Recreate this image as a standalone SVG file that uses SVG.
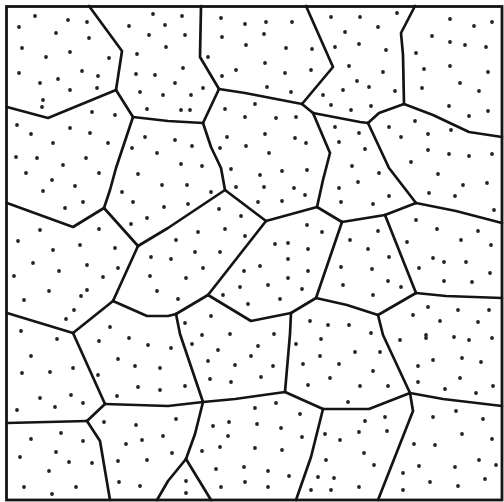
<svg xmlns="http://www.w3.org/2000/svg" width="504" height="502" viewBox="0 0 504 502">
<style>
.b{fill:none;stroke:#141414;stroke-width:2.7;stroke-linejoin:round;stroke-linecap:round}
.f{fill:none;stroke:#141414;stroke-width:2.8}
.d circle{fill:#222}
</style>
<rect width="504" height="502" fill="#ffffff"/>
<rect id="frame" x="6.5" y="6.5" width="495.5" height="493.5" class="f"/>
<g id="boundaries" class="b">
<path d="M89,6 L122,51 L116,90"/>
<path d="M116,90 L48,118 L7,107"/>
<path d="M116,90 L133,117"/>
<path d="M133,117 L168,121 L203,123"/>
<path d="M133,117 L116,168 L110,190 L104,208"/>
<path d="M201,6 L200,57 L219,89"/>
<path d="M219,89 L203,123"/>
<path d="M219,89 L245,93 L302,104"/>
<path d="M203,123 L211,147 L221,168 L225,190"/>
<path d="M306,6 L333,67 L302,104"/>
<path d="M302,104 L313,113"/>
<path d="M313,113 L360,122 L368,123"/>
<path d="M313,113 L330,153 L323,180 L317,207"/>
<path d="M415,6 L401,33 L403,55 L404,104"/>
<path d="M404,104 L379,113 L368,123"/>
<path d="M404,104 L433,115 L469,132 L502,137"/>
<path d="M368,123 L389,168 L416,203"/>
<path d="M416,203 L456,211 L502,223"/>
<path d="M416,203 L385,215"/>
<path d="M385,215 L342,222"/>
<path d="M342,222 L317,207"/>
<path d="M317,207 L266,221"/>
<path d="M266,221 L225,190"/>
<path d="M225,190 L168,228 L138,246"/>
<path d="M104,208 L138,246"/>
<path d="M7,203 L73,227 L104,208"/>
<path d="M138,246 L113,301"/>
<path d="M113,301 L147,316 L168,316 L176,314"/>
<path d="M176,314 L208,295"/>
<path d="M208,295 L266,221"/>
<path d="M208,295 L251,321 L291,313"/>
<path d="M291,313 L316,298"/>
<path d="M316,298 L342,222"/>
<path d="M316,298 L347,305 L378,315"/>
<path d="M385,215 L416,293"/>
<path d="M416,293 L446,296 L502,298"/>
<path d="M416,293 L378,315"/>
<path d="M378,315 L383,335 L410,393"/>
<path d="M113,301 L73,333"/>
<path d="M7,313 L73,333"/>
<path d="M73,333 L105,404"/>
<path d="M105,404 L168,406 L203,402"/>
<path d="M105,404 L87,421"/>
<path d="M7,423 L87,421"/>
<path d="M87,421 L100,441 L110,500"/>
<path d="M176,314 L180,334 L203,402"/>
<path d="M203,402 L235,399 L285,392"/>
<path d="M285,392 L290,334 L291,313"/>
<path d="M285,392 L323,409"/>
<path d="M323,409 L369,409 L410,393"/>
<path d="M410,393 L443,399 L502,406"/>
<path d="M410,393 L413,411 L378,500"/>
<path d="M323,409 L311,457 L296,500"/>
<path d="M203,402 L195,434 L186,459"/>
<path d="M186,459 L211,500"/>
<path d="M186,459 L168,481 L157,500"/>
</g>
<g id="dots" class="d">
<circle cx="35" cy="16" r="1.9"/><circle cx="68" cy="20" r="1.9"/><circle cx="87" cy="22" r="1.9"/><circle cx="19" cy="27" r="1.9"/><circle cx="153" cy="14" r="1.9"/><circle cx="129" cy="26" r="1.9"/><circle cx="165" cy="25" r="1.9"/><circle cx="56" cy="33" r="1.9"/><circle cx="89" cy="38" r="1.9"/><circle cx="149" cy="35" r="1.9"/><circle cx="22" cy="48" r="1.9"/><circle cx="70" cy="52" r="1.9"/><circle cx="137" cy="54" r="1.9"/><circle cx="46" cy="57" r="1.9"/><circle cx="109" cy="58" r="1.9"/><circle cx="166" cy="47" r="1.9"/><circle cx="19" cy="73" r="1.9"/><circle cx="82" cy="71" r="1.9"/><circle cx="98" cy="76" r="1.9"/><circle cx="136" cy="74" r="1.9"/><circle cx="155" cy="75" r="1.9"/><circle cx="40" cy="83" r="1.9"/><circle cx="58" cy="79" r="1.9"/><circle cx="70" cy="90" r="1.9"/><circle cx="97" cy="88" r="1.9"/><circle cx="140" cy="92" r="1.9"/><circle cx="163" cy="95" r="1.9"/><circle cx="43" cy="100" r="1.9"/><circle cx="42" cy="107" r="1.9"/><circle cx="147" cy="109" r="1.9"/><circle cx="92" cy="112" r="1.9"/><circle cx="115" cy="115" r="1.9"/><circle cx="17" cy="125" r="1.9"/><circle cx="70" cy="128" r="1.9"/><circle cx="31" cy="134" r="1.9"/><circle cx="90" cy="133" r="1.9"/><circle cx="145" cy="137" r="1.9"/><circle cx="53" cy="143" r="1.9"/><circle cx="108" cy="143" r="1.9"/><circle cx="132" cy="148" r="1.9"/><circle cx="157" cy="153" r="1.9"/><circle cx="16" cy="157" r="1.9"/><circle cx="37" cy="158" r="1.9"/><circle cx="86" cy="158" r="1.9"/><circle cx="63" cy="165" r="1.9"/>
<circle cx="182" cy="16" r="1.9"/><circle cx="221" cy="18" r="1.9"/><circle cx="245" cy="24" r="1.9"/><circle cx="266" cy="22" r="1.9"/><circle cx="292" cy="22" r="1.9"/><circle cx="331" cy="17" r="1.9"/><circle cx="185" cy="35" r="1.9"/><circle cx="222" cy="37" r="1.9"/><circle cx="264" cy="34" r="1.9"/><circle cx="246" cy="45" r="1.9"/><circle cx="286" cy="48" r="1.9"/><circle cx="312" cy="49" r="1.9"/><circle cx="208" cy="57" r="1.9"/><circle cx="335" cy="47" r="1.9"/><circle cx="183" cy="68" r="1.9"/><circle cx="236" cy="70" r="1.9"/><circle cx="265" cy="63" r="1.9"/><circle cx="285" cy="73" r="1.9"/><circle cx="311" cy="70" r="1.9"/><circle cx="222" cy="76" r="1.9"/><circle cx="175" cy="83" r="1.9"/><circle cx="203" cy="88" r="1.9"/><circle cx="267" cy="87" r="1.9"/><circle cx="291" cy="92" r="1.9"/><circle cx="191" cy="95" r="1.9"/><circle cx="323" cy="95" r="1.9"/><circle cx="181" cy="110" r="1.9"/><circle cx="190" cy="110" r="1.9"/><circle cx="331" cy="105" r="1.9"/><circle cx="225" cy="109" r="1.9"/><circle cx="255" cy="104" r="1.9"/><circle cx="245" cy="117" r="1.9"/><circle cx="276" cy="118" r="1.9"/><circle cx="296" cy="117" r="1.9"/><circle cx="335" cy="127" r="1.9"/><circle cx="175" cy="140" r="1.9"/><circle cx="192" cy="146" r="1.9"/><circle cx="227" cy="137" r="1.9"/><circle cx="265" cy="134" r="1.9"/><circle cx="295" cy="138" r="1.9"/><circle cx="220" cy="148" r="1.9"/><circle cx="246" cy="146" r="1.9"/><circle cx="269" cy="153" r="1.9"/><circle cx="306" cy="143" r="1.9"/><circle cx="181" cy="164" r="1.9"/><circle cx="202" cy="166" r="1.9"/>
<circle cx="360" cy="17" r="1.9"/><circle cx="397" cy="13" r="1.9"/><circle cx="345" cy="32" r="1.9"/><circle cx="378" cy="27" r="1.9"/><circle cx="450" cy="19" r="1.9"/><circle cx="474" cy="26" r="1.9"/><circle cx="492" cy="22" r="1.9"/><circle cx="359" cy="44" r="1.9"/><circle cx="386" cy="50" r="1.9"/><circle cx="432" cy="36" r="1.9"/><circle cx="450" cy="42" r="1.9"/><circle cx="465" cy="45" r="1.9"/><circle cx="486" cy="47" r="1.9"/><circle cx="416" cy="53" r="1.9"/><circle cx="349" cy="66" r="1.9"/><circle cx="383" cy="72" r="1.9"/><circle cx="424" cy="69" r="1.9"/><circle cx="450" cy="66" r="1.9"/><circle cx="488" cy="72" r="1.9"/><circle cx="357" cy="81" r="1.9"/><circle cx="369" cy="87" r="1.9"/><circle cx="343" cy="90" r="1.9"/><circle cx="395" cy="91" r="1.9"/><circle cx="422" cy="88" r="1.9"/><circle cx="460" cy="83" r="1.9"/><circle cx="479" cy="91" r="1.9"/><circle cx="351" cy="110" r="1.9"/><circle cx="371" cy="106" r="1.9"/><circle cx="449" cy="106" r="1.9"/><circle cx="469" cy="116" r="1.9"/><circle cx="488" cy="111" r="1.9"/><circle cx="415" cy="121" r="1.9"/><circle cx="389" cy="127" r="1.9"/><circle cx="401" cy="137" r="1.9"/><circle cx="428" cy="134" r="1.9"/><circle cx="451" cy="130" r="1.9"/><circle cx="359" cy="133" r="1.9"/><circle cx="339" cy="142" r="1.9"/><circle cx="365" cy="149" r="1.9"/><circle cx="428" cy="150" r="1.9"/><circle cx="449" cy="154" r="1.9"/><circle cx="469" cy="156" r="1.9"/><circle cx="492" cy="154" r="1.9"/><circle cx="411" cy="162" r="1.9"/><circle cx="352" cy="166" r="1.9"/>
<circle cx="26" cy="173" r="1.9"/><circle cx="52" cy="180" r="1.9"/><circle cx="43" cy="191" r="1.9"/><circle cx="75" cy="186" r="1.9"/><circle cx="99" cy="173" r="1.9"/><circle cx="65" cy="208" r="1.9"/><circle cx="83" cy="202" r="1.9"/><circle cx="138" cy="174" r="1.9"/><circle cx="162" cy="185" r="1.9"/><circle cx="122" cy="192" r="1.9"/><circle cx="133" cy="202" r="1.9"/><circle cx="164" cy="207" r="1.9"/><circle cx="147" cy="218" r="1.9"/><circle cx="131" cy="224" r="1.9"/><circle cx="40" cy="230" r="1.9"/><circle cx="99" cy="229" r="1.9"/><circle cx="18" cy="241" r="1.9"/><circle cx="80" cy="245" r="1.9"/><circle cx="53" cy="250" r="1.9"/><circle cx="115" cy="248" r="1.9"/><circle cx="33" cy="263" r="1.9"/><circle cx="87" cy="265" r="1.9"/><circle cx="59" cy="271" r="1.9"/><circle cx="118" cy="268" r="1.9"/><circle cx="14" cy="276" r="1.9"/><circle cx="103" cy="277" r="1.9"/><circle cx="151" cy="257" r="1.9"/><circle cx="150" cy="276" r="1.9"/><circle cx="157" cy="291" r="1.9"/><circle cx="49" cy="291" r="1.9"/><circle cx="87" cy="290" r="1.9"/><circle cx="81" cy="296" r="1.9"/><circle cx="24" cy="300" r="1.9"/><circle cx="74" cy="310" r="1.9"/><circle cx="66" cy="319" r="1.9"/><circle cx="21" cy="331" r="1.9"/><circle cx="110" cy="327" r="1.9"/>
<circle cx="231" cy="169" r="1.9"/><circle cx="187" cy="185" r="1.9"/><circle cx="211" cy="192" r="1.9"/><circle cx="188" cy="204" r="1.9"/><circle cx="236" cy="187" r="1.9"/><circle cx="260" cy="175" r="1.9"/><circle cx="282" cy="171" r="1.9"/><circle cx="307" cy="170" r="1.9"/><circle cx="264" cy="187" r="1.9"/><circle cx="294" cy="188" r="1.9"/><circle cx="305" cy="195" r="1.9"/><circle cx="258" cy="202" r="1.9"/><circle cx="282" cy="201" r="1.9"/><circle cx="219" cy="209" r="1.9"/><circle cx="241" cy="216" r="1.9"/><circle cx="198" cy="232" r="1.9"/><circle cx="225" cy="229" r="1.9"/><circle cx="245" cy="236" r="1.9"/><circle cx="176" cy="240" r="1.9"/><circle cx="307" cy="225" r="1.9"/><circle cx="322" cy="232" r="1.9"/><circle cx="275" cy="244" r="1.9"/><circle cx="288" cy="243" r="1.9"/><circle cx="308" cy="249" r="1.9"/><circle cx="195" cy="252" r="1.9"/><circle cx="220" cy="252" r="1.9"/><circle cx="171" cy="259" r="1.9"/><circle cx="288" cy="259" r="1.9"/><circle cx="260" cy="266" r="1.9"/><circle cx="203" cy="268" r="1.9"/><circle cx="244" cy="271" r="1.9"/><circle cx="308" cy="271" r="1.9"/><circle cx="186" cy="278" r="1.9"/><circle cx="288" cy="278" r="1.9"/><circle cx="268" cy="285" r="1.9"/><circle cx="240" cy="287" r="1.9"/><circle cx="302" cy="289" r="1.9"/><circle cx="178" cy="299" r="1.9"/><circle cx="223" cy="295" r="1.9"/><circle cx="248" cy="304" r="1.9"/><circle cx="280" cy="299" r="1.9"/><circle cx="211" cy="316" r="1.9"/><circle cx="185" cy="323" r="1.9"/><circle cx="230" cy="334" r="1.9"/><circle cx="202" cy="335" r="1.9"/><circle cx="274" cy="334" r="1.9"/><circle cx="310" cy="321" r="1.9"/><circle cx="328" cy="325" r="1.9"/>
<circle cx="379" cy="173" r="1.9"/><circle cx="438" cy="174" r="1.9"/><circle cx="358" cy="182" r="1.9"/><circle cx="463" cy="185" r="1.9"/><circle cx="487" cy="183" r="1.9"/><circle cx="339" cy="188" r="1.9"/><circle cx="389" cy="196" r="1.9"/><circle cx="429" cy="193" r="1.9"/><circle cx="455" cy="196" r="1.9"/><circle cx="341" cy="202" r="1.9"/><circle cx="373" cy="204" r="1.9"/><circle cx="494" cy="210" r="1.9"/><circle cx="416" cy="220" r="1.9"/><circle cx="437" cy="229" r="1.9"/><circle cx="478" cy="231" r="1.9"/><circle cx="378" cy="231" r="1.9"/><circle cx="350" cy="240" r="1.9"/><circle cx="407" cy="242" r="1.9"/><circle cx="461" cy="240" r="1.9"/><circle cx="491" cy="245" r="1.9"/><circle cx="368" cy="249" r="1.9"/><circle cx="389" cy="257" r="1.9"/><circle cx="433" cy="258" r="1.9"/><circle cx="444" cy="262" r="1.9"/><circle cx="466" cy="262" r="1.9"/><circle cx="341" cy="267" r="1.9"/><circle cx="372" cy="269" r="1.9"/><circle cx="419" cy="268" r="1.9"/><circle cx="490" cy="273" r="1.9"/><circle cx="388" cy="281" r="1.9"/><circle cx="444" cy="281" r="1.9"/><circle cx="472" cy="282" r="1.9"/><circle cx="343" cy="285" r="1.9"/><circle cx="401" cy="287" r="1.9"/><circle cx="373" cy="295" r="1.9"/><circle cx="428" cy="307" r="1.9"/><circle cx="458" cy="310" r="1.9"/><circle cx="489" cy="310" r="1.9"/><circle cx="413" cy="315" r="1.9"/><circle cx="440" cy="321" r="1.9"/><circle cx="478" cy="322" r="1.9"/><circle cx="349" cy="325" r="1.9"/><circle cx="371" cy="333" r="1.9"/><circle cx="426" cy="335" r="1.9"/>
<circle cx="57" cy="339" r="1.9"/><circle cx="99" cy="341" r="1.9"/><circle cx="129" cy="338" r="1.9"/><circle cx="148" cy="345" r="1.9"/><circle cx="31" cy="356" r="1.9"/><circle cx="118" cy="359" r="1.9"/><circle cx="135" cy="366" r="1.9"/><circle cx="160" cy="368" r="1.9"/><circle cx="22" cy="373" r="1.9"/><circle cx="50" cy="372" r="1.9"/><circle cx="73" cy="368" r="1.9"/><circle cx="98" cy="375" r="1.9"/><circle cx="138" cy="387" r="1.9"/><circle cx="160" cy="390" r="1.9"/><circle cx="71" cy="395" r="1.9"/><circle cx="40" cy="398" r="1.9"/><circle cx="117" cy="396" r="1.9"/><circle cx="83" cy="403" r="1.9"/><circle cx="55" cy="407" r="1.9"/><circle cx="17" cy="410" r="1.9"/><circle cx="104" cy="422" r="1.9"/><circle cx="136" cy="425" r="1.9"/><circle cx="163" cy="436" r="1.9"/><circle cx="61" cy="433" r="1.9"/><circle cx="31" cy="439" r="1.9"/><circle cx="83" cy="441" r="1.9"/><circle cx="126" cy="444" r="1.9"/><circle cx="142" cy="440" r="1.9"/><circle cx="56" cy="452" r="1.9"/><circle cx="20" cy="457" r="1.9"/><circle cx="69" cy="462" r="1.9"/><circle cx="92" cy="463" r="1.9"/><circle cx="118" cy="461" r="1.9"/><circle cx="147" cy="460" r="1.9"/><circle cx="49" cy="471" r="1.9"/><circle cx="119" cy="482" r="1.9"/><circle cx="24" cy="487" r="1.9"/><circle cx="76" cy="487" r="1.9"/><circle cx="140" cy="486" r="1.9"/><circle cx="52" cy="494" r="1.9"/>
<circle cx="171" cy="348" r="1.9"/><circle cx="192" cy="344" r="1.9"/><circle cx="218" cy="350" r="1.9"/><circle cx="258" cy="346" r="1.9"/><circle cx="296" cy="344" r="1.9"/><circle cx="321" cy="339" r="1.9"/><circle cx="208" cy="361" r="1.9"/><circle cx="251" cy="356" r="1.9"/><circle cx="320" cy="356" r="1.9"/><circle cx="235" cy="365" r="1.9"/><circle cx="273" cy="366" r="1.9"/><circle cx="303" cy="364" r="1.9"/><circle cx="210" cy="379" r="1.9"/><circle cx="261" cy="377" r="1.9"/><circle cx="185" cy="386" r="1.9"/><circle cx="231" cy="382" r="1.9"/><circle cx="330" cy="378" r="1.9"/><circle cx="308" cy="385" r="1.9"/><circle cx="276" cy="403" r="1.9"/><circle cx="255" cy="408" r="1.9"/><circle cx="300" cy="414" r="1.9"/><circle cx="176" cy="419" r="1.9"/><circle cx="229" cy="422" r="1.9"/><circle cx="213" cy="426" r="1.9"/><circle cx="257" cy="424" r="1.9"/><circle cx="281" cy="428" r="1.9"/><circle cx="228" cy="436" r="1.9"/><circle cx="302" cy="437" r="1.9"/><circle cx="325" cy="434" r="1.9"/><circle cx="220" cy="447" r="1.9"/><circle cx="255" cy="448" r="1.9"/><circle cx="282" cy="450" r="1.9"/><circle cx="202" cy="451" r="1.9"/><circle cx="172" cy="453" r="1.9"/><circle cx="326" cy="460" r="1.9"/><circle cx="244" cy="467" r="1.9"/><circle cx="216" cy="469" r="1.9"/><circle cx="268" cy="471" r="1.9"/><circle cx="289" cy="476" r="1.9"/><circle cx="318" cy="477" r="1.9"/><circle cx="186" cy="481" r="1.9"/><circle cx="245" cy="482" r="1.9"/><circle cx="334" cy="478" r="1.9"/><circle cx="221" cy="487" r="1.9"/><circle cx="268" cy="487" r="1.9"/><circle cx="186" cy="493" r="1.9"/><circle cx="311" cy="490" r="1.9"/><circle cx="331" cy="490" r="1.9"/>
<circle cx="400" cy="340" r="1.9"/><circle cx="426" cy="338" r="1.9"/><circle cx="454" cy="337" r="1.9"/><circle cx="469" cy="340" r="1.9"/><circle cx="492" cy="338" r="1.9"/><circle cx="355" cy="352" r="1.9"/><circle cx="380" cy="352" r="1.9"/><circle cx="433" cy="360" r="1.9"/><circle cx="462" cy="358" r="1.9"/><circle cx="481" cy="362" r="1.9"/><circle cx="339" cy="364" r="1.9"/><circle cx="418" cy="366" r="1.9"/><circle cx="373" cy="371" r="1.9"/><circle cx="460" cy="378" r="1.9"/><circle cx="418" cy="382" r="1.9"/><circle cx="360" cy="386" r="1.9"/><circle cx="388" cy="386" r="1.9"/><circle cx="493" cy="386" r="1.9"/><circle cx="445" cy="389" r="1.9"/><circle cx="476" cy="393" r="1.9"/><circle cx="348" cy="402" r="1.9"/><circle cx="456" cy="411" r="1.9"/><circle cx="365" cy="421" r="1.9"/><circle cx="385" cy="417" r="1.9"/><circle cx="433" cy="417" r="1.9"/><circle cx="483" cy="419" r="1.9"/><circle cx="359" cy="432" r="1.9"/><circle cx="387" cy="431" r="1.9"/><circle cx="462" cy="434" r="1.9"/><circle cx="340" cy="440" r="1.9"/><circle cx="492" cy="439" r="1.9"/><circle cx="414" cy="444" r="1.9"/><circle cx="435" cy="445" r="1.9"/><circle cx="364" cy="453" r="1.9"/><circle cx="479" cy="460" r="1.9"/><circle cx="374" cy="465" r="1.9"/><circle cx="419" cy="466" r="1.9"/><circle cx="455" cy="467" r="1.9"/><circle cx="496" cy="465" r="1.9"/><circle cx="403" cy="473" r="1.9"/><circle cx="485" cy="479" r="1.9"/><circle cx="430" cy="482" r="1.9"/><circle cx="359" cy="487" r="1.9"/><circle cx="458" cy="486" r="1.9"/><circle cx="403" cy="490" r="1.9"/>
</g>
</svg>
